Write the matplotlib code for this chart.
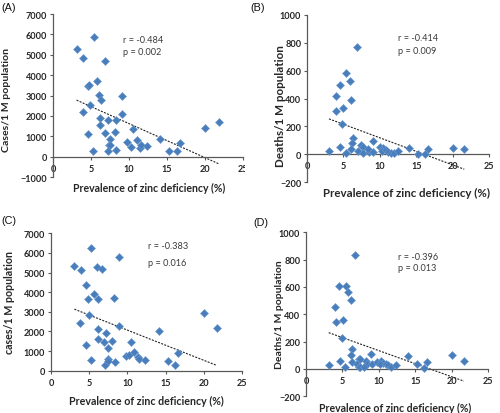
import numpy as np
import matplotlib
matplotlib.use("Agg")
import matplotlib.pyplot as plt
from matplotlib.patches import Rectangle

# ---------------- data ----------------
zinc_a = [3.1, 5.4, 4.0, 6.8, 5.75, 4.6, 4.8, 6.1, 6.3, 9.05, 4.9, 3.9, 6.15, 9.05,
          7.3, 8.3, 6.15, 4.6, 6.9, 8.1, 10.5, 7.5, 7.4, 7.5, 9.75, 11.0, 10.2, 11.4,
          11.6, 12.4, 14.1, 5.3, 7.2, 8.35, 15.3, 16.35, 16.7, 20.0, 21.8]
cases_a = [5300, 5860, 4860, 4710, 3730, 3490, 3520, 3030, 2800, 2960, 2550, 2190, 1900, 2110,
           1800, 1800, 1540, 1110, 1180, 1230, 1340, 850, 570, 560, 720, 820, 490, 410,
           560, 540, 850, 295, 260, 340, 295, 260, 690, 1410, 1700]

zinc_b = [6.83, 5.4, 5.9, 4.58, 3.98, 6.09, 4.99, 3.94, 4.85, 3.02, 4.58, 5.36, 6.28, 6.14,
          6.09, 7.42, 7.65, 7.06, 7.65, 8.48, 8.43, 9.12, 9.07, 10.04, 10.5, 10.36, 10.82,
          11.18, 11.55, 11.9, 12.56, 14.0, 15.2, 16.2, 16.6, 20.0, 21.6]
deaths_b = [770, 583, 523, 497, 418, 387, 330, 308, 217, 26, 50, 10, 117, 84,
            38, 65, 53, 22, 12, 17, 40, 93, 17, 50, 45, 22, 29,
            17, 10, 10, 22, 43, 5, 3, 37, 48, 42]

zinc_c = [3.06, 3.97, 5.28, 4.59, 4.9, 5.68, 6.03, 6.2, 6.72, 8.95, 8.25, 3.84, 4.98, 6.11,
          8.95, 7.2, 6.11, 6.99, 8.03, 7.42, 4.54, 5.2, 7.1, 7.47, 7.4, 8.34, 9.8, 10.2,
          10.5, 10.9, 11.36, 11.5, 12.3, 14.1, 15.3, 16.25, 16.6, 20.05, 21.7]
cases_c = [5320, 5120, 6230, 4370, 3630, 3930, 5290, 3660, 5200, 5810, 3690, 2420, 2860, 2100,
           2260, 1910, 1590, 1440, 1490, 1150, 1290, 560, 270, 610, 510, 420, 730, 790,
           1475, 966, 712, 600, 560, 2000, 480, 290, 915, 2930, 2150]

zinc_d = [6.79, 4.59, 5.50, 5.83, 6.15, 3.99, 4.08, 5.05, 4.95, 3.12, 4.63, 5.37, 6.33, 6.19,
          6.28, 7.25, 7.48, 6.97, 7.25, 7.48, 8.21, 8.39, 7.98, 8.99, 9.04, 9.77, 10.32,
          10.64, 10.14, 10.96, 11.28, 11.61, 12.38, 14.07, 15.27, 16.27, 16.64, 20.04, 21.7]
deaths_d = [834, 610, 607, 566, 507, 451, 341, 356, 224, 29, 58, 12, 146, 102,
            51, 73, 76, 37, 17, 17, 56, 37, 17, 107, 37, 51, 56,
            46, 37, 37, 29, 17, 27, 93, 34, 5, 54, 105, 59]

panel_letters = ["(A)", "(B)", "(C)", "(D)"]
y_titles = ["Cases/1 M population", "Deaths/1 M population",
            "cases/1 M population", "Deaths/1 M population"]
x_title = "Prevalence of zinc deficiency (%)"
r_texts = ["r = -0.484", "r = -0.414", "r = -0.383", "r = -0.396"]
p_texts = ["p = 0.002", "p = 0.009", "p = 0.016", "p = 0.013"]
x_ticks = [0, 5, 10, 15, 20, 25]
y_ticks_cases_a = [-1000, 0, 1000, 2000, 3000, 4000, 5000, 6000, 7000]
y_ticks_deaths = [-200, 0, 200, 400, 600, 800, 1000]
y_ticks_cases_c = [0, 1000, 2000, 3000, 4000, 5000, 6000, 7000]

# ---------------- layout ----------------
W, H = 500, 414
fig = plt.figure(figsize=(W / 100, H / 100), dpi=100)
fig.patch.set_facecolor("white")

def rect(l, r, t, b):
    return [l / W, (H - b) / H, (r - l) / W, (b - t) / H]

panels = [
    dict(rect=rect(53, 243, 15, 178), x=zinc_a, y=cases_a, yt=y_ticks_cases_a,
         txt=(9.2, 5773, 5184), letter=(1, 8), ylab=(7, 100, 104), xlab=(149.5, 188, 155),
         cut=(244.5, 158, 22)),
    dict(rect=rect(307, 489, 15.7, 183.3), x=zinc_b, y=deaths_b, yt=y_ticks_deaths,
         txt=(12.5, 840, 747), letter=(250, 8), ylab=(281, 106, 122), xlab=(406.7, 193, 168),
         cut=None),
    dict(rect=rect(51, 242, 234.3, 371.7), x=zinc_c, y=cases_c, yt=y_ticks_cases_c,
         txt=(12.7, 6353, 5487), letter=(1, 221), ylab=(10, 302, 104), xlab=(146, 401, 156),
         cut=(246.0, 374, 20)),
    dict(rect=rect(306, 488, 233.3, 397.3), x=zinc_d, y=deaths_d, yt=y_ticks_deaths,
         txt=(12.65, 826, 741), letter=(253, 223), ylab=(279, 315, 110), xlab=(395.5, 408, 155),
         cut=None),
]

axis_col = "#595959"
text_col = "#262626"
marker_col = "#4A7EBB"
fit_texts = []

for i, p in enumerate(panels):
    ax = fig.add_axes(p["rect"])
    x = np.array(p["x"], dtype=float)
    y = np.array(p["y"], dtype=float)
    ax.plot(x, y, linestyle="none", marker="D", markersize=4.0,
            markerfacecolor=marker_col, markeredgecolor="#6A9AD0", markeredgewidth=0.4, zorder=3)
    coef = np.polyfit(x, y, 1)
    xs = np.array([x.min(), x.max()])
    ax.plot(xs, np.polyval(coef, xs), color="#222222", lw=0.8, linestyle=(0, (1.8, 1.2)), zorder=2)

    ax.set_xlim(0, 25)
    ax.set_ylim(p["yt"][0], p["yt"][-1])
    ax.set_xticks(x_ticks)
    ax.set_yticks(p["yt"])
    for s in ["top", "right"]:
        ax.spines[s].set_visible(False)
    ax.spines["bottom"].set_position(("data", 0))
    for s in ["left", "bottom"]:
        ax.spines[s].set_color(axis_col)
        ax.spines[s].set_linewidth(0.9)
    ax.tick_params(direction="out", length=2.5, width=0.8, color=axis_col,
                   labelsize=6.6, labelcolor=text_col)
    ax.tick_params(axis="x", pad=2.6)
    ax.tick_params(axis="y", pad=1.6)
    for lab in ax.get_xticklabels() + ax.get_yticklabels():
        lab.set_fontfamily("Lato")
        lab.set_fontweight("bold")
    ax.patch.set_alpha(0)

    tx, ry, py = p["txt"]
    ax.text(tx, ry, r_texts[i], fontsize=6.6, family="Lato", color="#3a3a3a", va="center", ha="left")
    ax.text(tx, py, p_texts[i], fontsize=6.6, family="Lato", color="#3a3a3a", va="center", ha="left")

    lx, ly = p["letter"]
    fig.text(lx / W, (H - ly) / H, panel_letters[i], fontsize=7.8, family="Liberation Sans",
             color="#111111", ha="left", va="center")

    yx, yy, yh = p["ylab"]
    t1 = fig.text(yx / W, (H - yy) / H, y_titles[i], rotation=90, fontsize=7, family="Lato",
                  fontweight="bold", color=text_col, ha="center", va="center")
    fit_texts.append((t1, yh, "h"))
    xx, xy, xw = p["xlab"]
    t2 = fig.text(xx / W, (H - xy) / H, x_title, fontsize=7, family="Lato",
                  fontweight="bold", color=text_col, ha="center", va="center")
    fit_texts.append((t2, xw, "w"))

    # the reference panels A and C are cropped on the right, cutting their last tick label
    if p["cut"] is not None:
        cx, cy, ch = p["cut"]
        fig.add_artist(Rectangle((cx / W, (H - cy - ch) / H), 7 / W, ch / H,
                                 transform=fig.transFigure, facecolor="white",
                                 edgecolor="none", zorder=10))

# size axis titles to the widths measured on the reference
fig.canvas.draw()
r = fig.canvas.get_renderer()
for t, target, dim in fit_texts:
    bb = t.get_window_extent(renderer=r)
    cur = bb.height if dim == "h" else bb.width
    t.set_fontsize(t.get_fontsize() * target / cur)

fig.savefig("out.png", dpi=100, facecolor="white")
